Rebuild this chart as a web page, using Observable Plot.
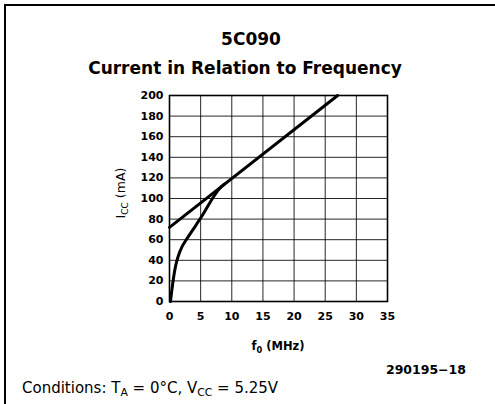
<!DOCTYPE html>
<html>
<head>
<meta charset="utf-8">
<script src="https://cdn.jsdelivr.net/npm/d3@7"></script>
<script src="https://cdn.jsdelivr.net/npm/@observablehq/plot@0.6"></script>
<style>
  html, body { margin: 0; padding: 0; background: #fff; }
  #chart { width: 495px; height: 404px; overflow: hidden; }
</style>
</head>
<body>
<div id="chart"></div>
<script>
// ---- data ----
const titleText = "5C090";
const subtitleText = "Current in Relation to Frequency";
const xTicks = [0, 5, 10, 15, 20, 25, 30, 35];
const yTicks = [0, 20, 40, 60, 80, 100, 120, 140, 160, 180, 200];
// straight line (asymptote)
const lineF = [0, 27];
const lineI = [72, 200];
// measured curve
const curveF = [0.15, 0.4, 0.7, 1.0, 1.4, 2.0, 2.8, 3.8, 5, 6, 7, 8, 8.8];
const curveI = [0, 12, 25, 35, 44, 53, 61, 70, 81, 91, 101, 109.5, 114];
const figureId = "290195\u221218";

const lineData = lineF.map((f, i) => ({f, i: lineI[i]}));
const curveData = curveF.map((f, i) => ({f, i: curveI[i]}));

const W = 495, H = 404;
const svg = Plot.plot({
  width: W,
  height: H,
  marginLeft: 169,
  marginRight: 108,
  marginTop: 95,
  marginBottom: 103,
  style: {fontFamily: "DejaVu Sans", fontSize: "11px", fontWeight: "bold", color: "#000", background: "#fff"},
  x: {domain: [0, 35], axis: null},
  y: {domain: [0, 200], axis: null},
  marks: [
    Plot.gridX(xTicks, {stroke: "#000", strokeOpacity: 0.85, strokeWidth: 1}),
    Plot.gridY(yTicks, {stroke: "#000", strokeOpacity: 0.85, strokeWidth: 1}),
    Plot.frame({stroke: "#000", strokeWidth: 1.6}),
    Plot.axisX(xTicks, {tickSize: 0, tickPadding: 11, label: null, fontSize: 11, fontWeight: "bold"}),
    Plot.axisY(yTicks, {tickSize: 0, tickPadding: 6, label: null, fontSize: 11, fontWeight: "bold"}),
    Plot.line(lineData, {x: "f", y: "i", stroke: "#000", strokeWidth: 3}),
    Plot.line(curveData, {x: "f", y: "i", stroke: "#000", strokeWidth: 3, curve: "catmull-rom"})
  ]
});
document.getElementById("chart").appendChild(svg);

const s = d3.select(svg);
// page border (top and left)
s.append("line").attr("x1", 4).attr("y1", 5).attr("x2", W).attr("y2", 5).attr("stroke", "#000").attr("stroke-width", 2);
s.append("line").attr("x1", 5).attr("y1", 4).attr("x2", 5).attr("y2", H).attr("stroke", "#000").attr("stroke-width", 2);

function addText(x, y, parts, opts) {
  const t = s.append("text")
    .attr("x", x).attr("y", y)
    .attr("font-family", "DejaVu Sans")
    .attr("font-size", opts.size)
    .attr("font-weight", opts.weight || "normal")
    .attr("text-anchor", opts.anchor || "start")
    .attr("fill", "#000");
  if (opts.rotate) t.attr("transform", `rotate(${opts.rotate},${x},${y})`);
  let shift = 0;
  parts.forEach(p => {
    const sp = t.append("tspan");
    if (typeof p === "string") {
      if (shift) sp.attr("dy", -shift);
      shift = 0;
      sp.text(p);
    } else {
      const d = opts.size * 0.25;
      sp.attr("font-size", opts.size * 0.72).attr("dy", d - shift).text(p.sub);
      shift = d;
    }
  });
  return t;
}

addText(251, 45, [titleText], {size: 17, weight: "bold", anchor: "middle"});
addText(245, 74, [subtitleText], {size: 17, weight: "bold", anchor: "middle"});
addText(278, 350, ["f", {sub: "0"}, " (MHz)"], {size: 11.5, weight: "bold", anchor: "middle"});
addText(125, 193, ["I", {sub: "CC"}, " (mA)"], {size: 12.5, anchor: "middle", rotate: -90});
addText(466, 374, [figureId], {size: 12.5, weight: "bold", anchor: "end"});
addText(22, 392.5, ["Conditions: T", {sub: "A"}, " = 0°C, V", {sub: "CC"}, " = 5.25V"], {size: 15});
</script>
</body>
</html>
